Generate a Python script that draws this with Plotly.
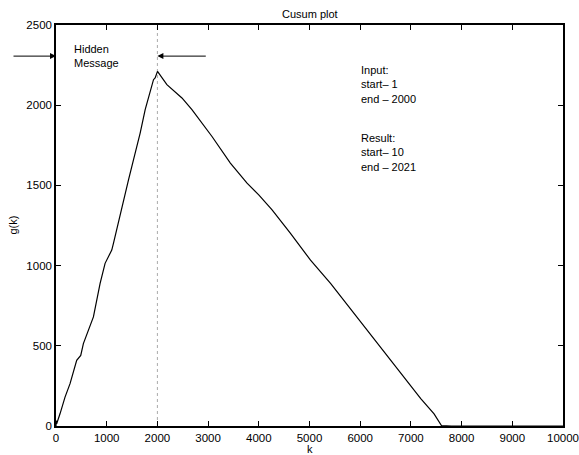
import plotly.graph_objects as go

# Cusum curve g(k)
k_vals = [0, 5, 13, 79, 178, 277, 408, 488, 540, 738, 870, 968, 1001, 1100, 1133,
          1298, 1430, 1528, 1660, 1759, 1858, 1923, 1955, 2002, 2187, 2484, 2681,
          3077, 3439, 3768, 3999, 4262, 4625, 5020, 5415, 5777, 6140, 6600, 7194,
          7457, 7602, 7800, 8100, 8300, 8450, 8700, 9000, 9400, 9550, 9800, 10000]
g_vals = [0, 34, 14, 76, 180, 264, 409, 440, 514, 680, 889, 1014, 1034, 1097, 1139,
          1368, 1534, 1659, 1826, 1972, 2076, 2159, 2170, 2211, 2128, 2045, 1972,
          1805, 1639, 1514, 1441, 1347, 1201, 1034, 889, 743, 597, 410, 170,
          76, 3, 0, 0, 4, 0, 0, 0, 4, 0, 0, 0]

x_ticks = [0, 1000, 2000, 3000, 4000, 5000, 6000, 7000, 8000, 9000, 10000]
y_ticks = [0, 500, 1000, 1500, 2000, 2500]

marker_k = 2000       # dotted vertical marker
arrow_g = 2306        # height of the "Hidden Message" arrows
arrow_tail_k = 2984

title = "Cusum plot"
x_label = "k"
y_label = "g(k)"
input_text = "Input:<br>start– 1<br>end – 2000"
result_text = "Result:<br>start– 10<br>end – 2021"
hidden_text = "Hidden<br>Message"

FONT = "Liberation Sans, Arial, sans-serif"

fig = go.Figure()
fig.add_trace(go.Scatter(x=[marker_k, marker_k], y=[0, 2500], mode="lines",
                         line=dict(color="#aaaaaa", width=1, dash="dot"),
                         hoverinfo="skip", showlegend=False))
fig.add_trace(go.Scatter(x=k_vals, y=g_vals, mode="lines",
                         line=dict(color="black", width=1.2),
                         showlegend=False))

axis_common = dict(showgrid=False, zeroline=False, showline=True, linecolor="black",
                   linewidth=1.5, mirror="ticks", ticks="inside", ticklen=5,
                   tickcolor="black", tickwidth=1, automargin=False,
                   tickfont=dict(family=FONT, size=11.5, color="black"))

fig.update_layout(
    width=579, height=455,
    margin=dict(l=56, r=16, t=25, b=29),
    plot_bgcolor="white", paper_bgcolor="white",
    font=dict(family=FONT, size=11, color="black"),
    xaxis=dict(range=[0, 10000], tickvals=x_ticks, ticktext=[str(v) for v in x_ticks],
               **axis_common),
    yaxis=dict(range=[0, 2500], tickvals=y_ticks, ticktext=[str(v) for v in y_ticks],
               **axis_common),
)

anns = [
    dict(text=title, xref="paper", yref="paper", x=0.5, y=1, yanchor="bottom",
         yshift=3, showarrow=False, font=dict(size=11)),
    dict(text=x_label, xref="paper", yref="paper", x=0.5, y=0, yanchor="top",
         yshift=-15, showarrow=False, font=dict(size=11)),
    dict(text=y_label, xref="paper", yref="paper", x=0, y=0.5, xanchor="right",
         xshift=-36, textangle=-90, showarrow=False, font=dict(size=11)),
    dict(text=hidden_text, xref="x", yref="y", x=320, y=arrow_g, xanchor="left",
         yanchor="middle", align="left", showarrow=False, font=dict(size=11)),
    dict(text=input_text, xref="x", yref="y", x=5970, y=2130, xanchor="left",
         yanchor="middle", align="left", showarrow=False, font=dict(size=11)),
    dict(text=result_text, xref="x", yref="y", x=5970, y=1705, xanchor="left",
         yanchor="middle", align="left", showarrow=False, font=dict(size=11)),
    # arrow pointing left to the marker
    dict(text="", xref="x", yref="y", x=marker_k, y=arrow_g, axref="x", ayref="y",
         ax=arrow_tail_k, ay=arrow_g, showarrow=True, arrowhead=2, arrowsize=1.2,
         arrowwidth=1, arrowcolor="black", standoff=0),
    # arrow from outside pointing right to the axis
    dict(text="", xref="paper", yref="y", x=0, y=arrow_g, ax=-44, ay=0,
         showarrow=True, arrowhead=2, arrowsize=1.2, arrowwidth=1,
         arrowcolor="black", standoff=0),
]
fig.update_layout(annotations=anns)

fig.write_html("out.html")
